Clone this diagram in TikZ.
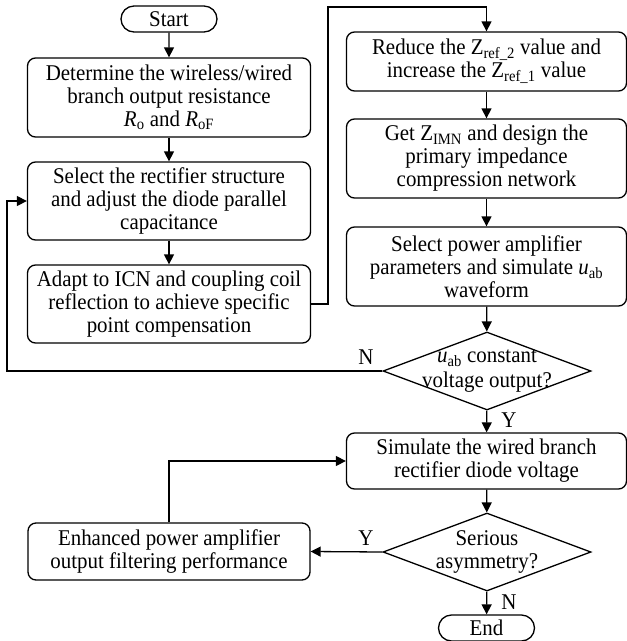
\documentclass[tikz,border=0pt]{standalone}
\usepackage{fontspec}
\setmainfont[FakeStretch=0.93]{Liberation Serif}
\usetikzlibrary{shapes.geometric,shapes.misc,arrows.meta}
\begin{document}
\begin{tikzpicture}[x=1pt,y=-1pt,
  every node/.style={font=\fontsize{22.5}{23}\selectfont},
  box/.style={draw,line width=1.3pt,rounded corners=8pt,align=center,inner sep=0pt},
  term/.style={draw,line width=1.3pt,rounded rectangle,minimum width=96pt,minimum height=26pt,inner sep=0pt},
  test/.style={draw,line width=1.3pt,diamond,minimum width=208pt,minimum height=78pt,inner sep=0pt},
  link/.style={line width=1.3pt,-{Triangle[length=10pt,width=10pt]}}]
\useasboundingbox (0,0) rectangle (627,641);
\node[term] (start) at (169,19) {Start};
\node[box,minimum width=283pt,minimum height=79pt] (1) at (169,97.5) {Determine the wireless/wired\\branch output resistance\\\textit{R}\textsubscript{o} and \textit{R}\textsubscript{oF}};
\node[box,minimum width=283pt,minimum height=78pt] (2) at (169,201) {Select the rectifier structure\\and adjust the diode parallel\\capacitance};
\node[box,minimum width=283pt,minimum height=78pt] (3) at (169,304) {Adapt to ICN and coupling coil\\reflection to achieve specific\\point compensation};
\node[box,minimum width=280pt,minimum height=59pt] (4) at (486.5,61.5) {Reduce the Z\textsubscript{ref\_2} value and\\increase the Z\textsubscript{ref\_1} value};
\node[box,minimum width=280pt,minimum height=79pt] (5) at (486.5,158.5) {Get Z\textsubscript{IMN} and design the\\primary impedance\\compression network};
\node[box,minimum width=280pt,minimum height=79pt] (6) at (486.5,266.5) {Select power amplifier\\parameters and simulate \textit{u}\textsubscript{ab}\\waveform};
\node[test,label={[align=center,font=\fontsize{22.5}{24.5}\selectfont]center:{\textit{u}\textsubscript{ab} constant\\voltage output?}}] (7) at (487,371) {};
\node[box,minimum width=280pt,minimum height=56pt] (8) at (486.5,461) {Simulate the wired branch\\rectifier diode voltage};
\node[test,label={[align=center]center:{Serious\\asymmetry?}}] (9) at (487,552) {};
\node[box,minimum width=282pt,minimum height=57pt] (10) at (169,551.5) {Enhanced power amplifier\\output filtering performance};
\node[term] (end) at (486.5,628) {End};

\coordinate (top) at (328,7);
\coordinate (loop) at (7,201);

\node (n1) at (366,357) {N};
\node (y1) at (509,420) {Y};
\node (y2) at (366,538) {Y};
\node (n2) at (509,602) {N};

\path[draw,link] (start) -- (1);
\path[draw,link] (1) -- (2);
\path[draw,link] (2) -- (3);
\path[draw,link] (3.east) -| (top) -| (4.north);
\path[draw,link] (4) -- (5);
\path[draw,link] (5) -- (6);
\path[draw,link] (6) -- (7);
\path[draw,link] (7.west) -| (loop) -- (2.west);
\path[draw,link] (7) -- (8);
\path[draw,link] (8) -- (9);
\path[draw,link] (9.west) -- (10.east);
\path[draw,link] (10.north) |- (8.west);
\path[draw,link] (9) -- (end);
\end{tikzpicture}
\end{document}
